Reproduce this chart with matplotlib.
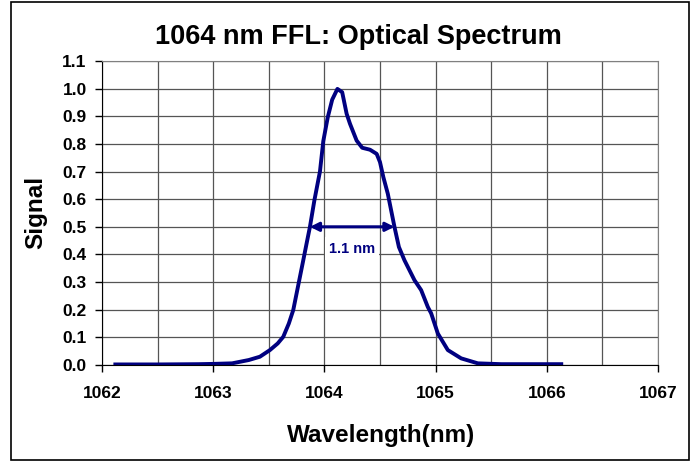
import matplotlib
matplotlib.use("Agg")
import matplotlib.pyplot as plt
from matplotlib.patches import Rectangle
import numpy as np

plt.rcParams['font.family'] = ['Liberation Sans', 'DejaVu Sans']
plt.rcParams['font.weight'] = 'bold'

# spectrum
wavelength = [1062.12, 1062.5, 1062.87, 1063.0, 1063.17, 1063.32, 1063.42, 1063.51,
              1063.58, 1063.63, 1063.68, 1063.72, 1063.75, 1063.78, 1063.81, 1063.84,
              1063.87, 1063.91, 1063.96, 1063.99, 1064.03, 1064.07, 1064.117, 1064.16,
              1064.20, 1064.23, 1064.29, 1064.34, 1064.41, 1064.47, 1064.50, 1064.53,
              1064.57, 1064.60, 1064.63, 1064.67, 1064.72, 1064.75, 1064.81, 1064.87,
              1064.93, 1064.96, 1065.02, 1065.11, 1065.23, 1065.38, 1065.59, 1065.8,
              1066.13]
signal = [0.002, 0.002, 0.003, 0.004, 0.006, 0.018, 0.03, 0.054,
          0.078, 0.102, 0.15, 0.199, 0.259, 0.319, 0.379, 0.44,
          0.50, 0.596, 0.70, 0.81, 0.896, 0.96, 0.999, 0.987,
          0.909, 0.873, 0.812, 0.786, 0.779, 0.764, 0.734, 0.680,
          0.620, 0.560, 0.50, 0.427, 0.379, 0.355, 0.307, 0.271,
          0.21, 0.187, 0.114, 0.054, 0.024, 0.006, 0.003, 0.003,
          0.003]

fwhm_left = 1063.87
fwhm_right = 1064.63
fwhm_level = 0.5
fwhm_label = "1.1 nm"

x_ticks = [1062, 1063, 1064, 1065, 1066, 1067]
y_ticks = np.arange(0, 1.11, 0.1)

navy = '#000080'
W, H = 696, 461

fig = plt.figure(figsize=(6.96, 4.61), dpi=100)
ax = fig.add_axes([102 / W, 1 - 365 / H, 556 / W, 304 / H])

ax.plot(wavelength, signal, color=navy, lw=2.8, solid_joinstyle='round')

ax.annotate('', xy=(fwhm_left, fwhm_level), xytext=(fwhm_right, fwhm_level),
            arrowprops=dict(arrowstyle='<|-|>', color=navy, lw=2.2,
                            mutation_scale=13, shrinkA=0, shrinkB=0))
ax.text((fwhm_left + fwhm_right) / 2, 0.421, fwhm_label, color=navy,
        fontsize=10.5, fontweight='bold', ha='center', va='center',
        bbox=dict(facecolor='white', edgecolor='none', pad=3))

ax.set_xlim(1062, 1067)
ax.set_ylim(0, 1.1)
ax.set_xticks(x_ticks)
ax.set_xticks(np.arange(1062.5, 1067, 1.0), minor=True)
ax.set_yticks(y_ticks)
ax.set_yticklabels(['%.1f' % v for v in y_ticks])
ax.tick_params(axis='both', which='major', labelsize=12.5, length=5, width=1,
               direction='out', color='black')
ax.tick_params(axis='x', which='major', pad=10)
ax.tick_params(axis='y', which='major', pad=6)
ax.tick_params(axis='x', which='minor', length=0)
ax.grid(True, which='both', color='#555555', lw=0.9)
ax.set_axisbelow(True)
for lbl in ax.get_xticklabels() + ax.get_yticklabels():
    lbl.set_fontweight('bold')

ax.spines['left'].set_color('black')
ax.spines['bottom'].set_color('black')
ax.spines['top'].set_color('#808080')
ax.spines['right'].set_color('#808080')

fig.text(381 / W, 1 - 435 / H, 'Wavelength(nm)', fontsize=17.5,
         fontweight='bold', ha='center', va='center')
fig.text(36 / W, 1 - 212 / H, 'Signal', fontsize=17.5, fontweight='bold',
         ha='center', va='center', rotation=90)
fig.text(358 / W, 1 - 37 / H, '1064 nm FFL: Optical Spectrum',
         fontsize=19.5, fontweight='bold', ha='center', va='center')

fig.patches.append(Rectangle((11 / W, 1 / H), 678 / W, 458 / H,
                             transform=fig.transFigure, fill=False,
                             edgecolor='black', lw=1.2))

fig.savefig('out.png', dpi=100)
